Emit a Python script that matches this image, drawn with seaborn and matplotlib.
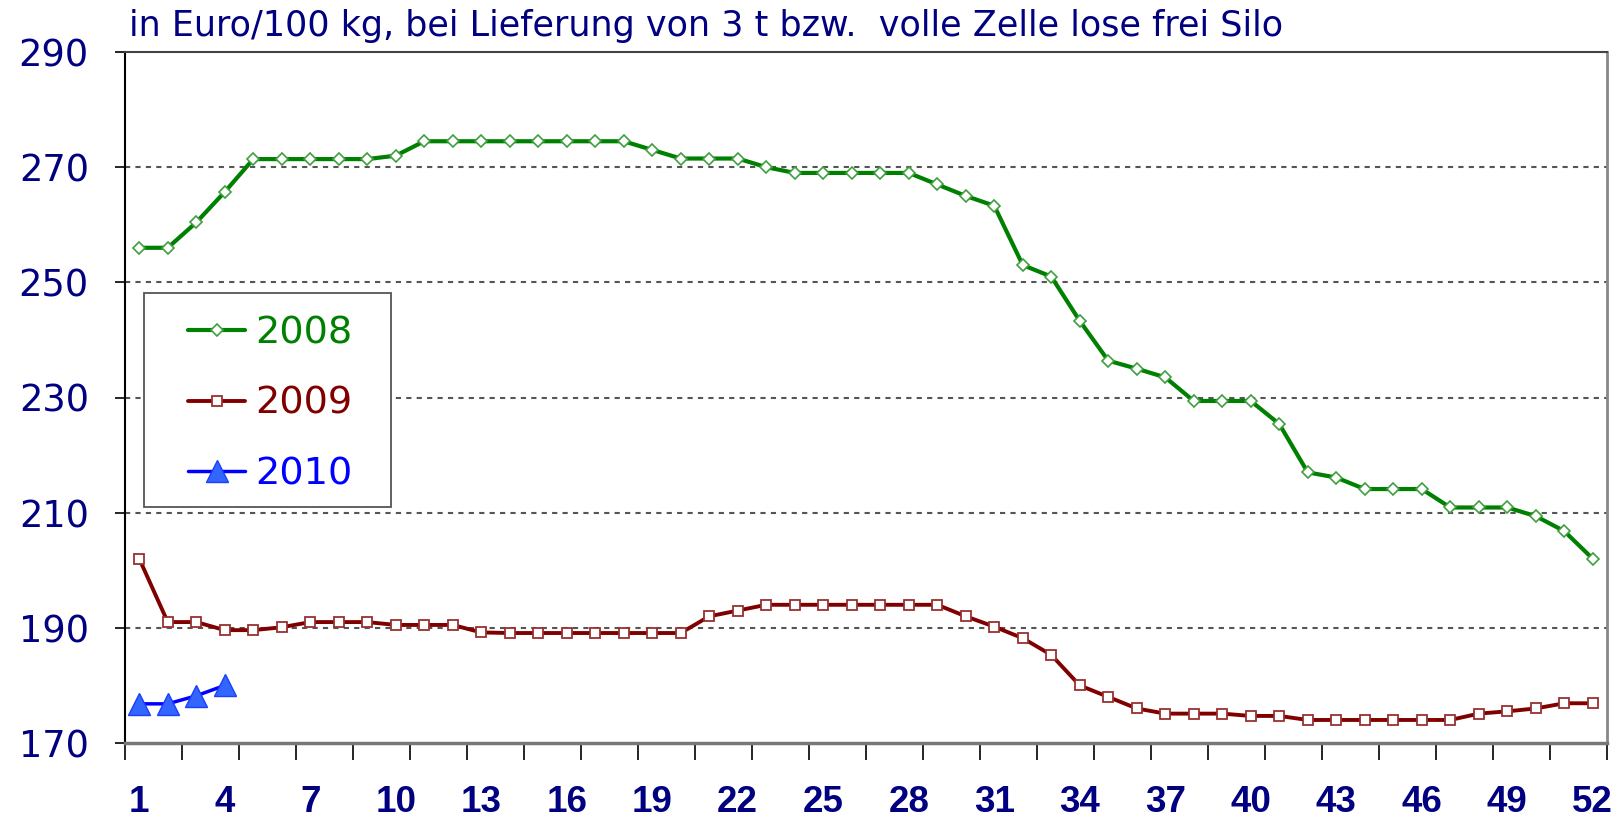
import numpy as np
import pandas as pd
import seaborn as sns
import matplotlib
matplotlib.use("Agg")
import matplotlib.pyplot as plt
from matplotlib.patches import Rectangle
from matplotlib.ticker import FixedLocator, NullFormatter

# weekly prices, Euro/100 kg
weeks = list(range(1, 53))
price_2008 = [256, 256, 260.4, 265.7, 271.4, 271.4, 271.4, 271.4, 271.4, 272.0,
              274.5, 274.5, 274.5, 274.5, 274.5, 274.5, 274.5, 274.5, 273.0, 271.5,
              271.5, 271.5, 270.0, 269.0, 269.0, 269.0, 269.0, 269.0, 267.0, 265.0,
              263.3, 253.0, 251.0, 243.3, 236.4, 235.0, 233.5, 229.4, 229.4, 229.4,
              225.4, 217.0, 216.1, 214.1, 214.1, 214.1, 210.9, 210.9, 210.9, 209.4,
              206.8, 202.0]
price_2009 = [202.0, 191.0, 191.0, 189.6, 189.6, 190.1, 191.0, 191.0, 191.0, 190.5,
              190.5, 190.5, 189.2, 189.1, 189.1, 189.1, 189.1, 189.1, 189.1, 189.1,
              192.0, 193.0, 194.0, 194.0, 194.0, 194.0, 194.0, 194.0, 194.0, 192.0,
              190.2, 188.2, 185.3, 180.0, 178.0, 176.0, 175.1, 175.1, 175.1, 174.7,
              174.7, 174.0, 174.0, 174.0, 174.0, 174.0, 174.0, 175.1, 175.5, 176.0,
              176.9, 176.9]
weeks_2010 = [1, 2, 3, 4]
price_2010 = [176.8, 176.8, 178.2, 180.0]

ytick_vals = [170, 190, 210, 230, 250, 270, 290]
xtick_labels = list(range(1, 53, 3))

navy = "#000080"

sns.set_style("white")
plt.rcParams["font.family"] = ["Liberation Sans", "DejaVu Sans"]

fig = plt.figure(figsize=(16.23, 8.21), dpi=100)
ax = fig.add_axes([125 / 1623, 1 - 743 / 821, 1482 / 1623, 691 / 821])

df08 = pd.DataFrame({"week": weeks, "price": price_2008})
df09 = pd.DataFrame({"week": weeks, "price": price_2009})
df10 = pd.DataFrame({"week": weeks_2010, "price": price_2010})

sns.lineplot(data=df08, x="week", y="price", ax=ax, color="#008000", lw=3,
             marker="D", ms=6.5, mfc="white", mec="#3f9f3f", mew=1.2, label="2008")
sns.lineplot(data=df09, x="week", y="price", ax=ax, color="#800000", lw=2.8,
             marker="s", ms=6.5, mfc="white", mec="#9a3030", mew=1.3, label="2009")
sns.lineplot(data=df10, x="week", y="price", ax=ax, color="#0000ff", lw=2.5,
             marker="^", ms=16, mfc="#3366ff", mec="#1a3dff", mew=1, label="2010")

ax.set_xlim(0.5, 52.5)
ax.set_ylim(170, 290)
ax.set_xlabel("")
ax.set_ylabel("")

# y axis
ax.set_yticks(ytick_vals)
ax.set_yticklabels([str(v) for v in ytick_vals], color=navy, fontsize=26.5,
                   family="DejaVu Sans")
ax.tick_params(axis="y", direction="out", length=7, width=1.2, color="black", pad=19, left=True)
for v in ytick_vals[1:-1]:
    ax.axhline(v, color="#555555", lw=1.5, ls=(0, (2.5, 2.5)), zorder=0)

# x axis: tick marks between pairs of weeks, labels every third week
ax.xaxis.set_major_locator(FixedLocator(xtick_labels))
ax.set_xticklabels([str(w) for w in xtick_labels], color=navy, fontsize=26.5,
                   fontweight="bold")
ax.tick_params(axis="x", which="major", length=0, pad=30)
ax.xaxis.set_minor_locator(FixedLocator(np.arange(0.5, 53, 2)))
ax.xaxis.set_minor_formatter(NullFormatter())
ax.tick_params(axis="x", which="minor", direction="out", length=12, width=1.2,
               color="black", bottom=True)

for side in ["left", "right", "top", "bottom"]:
    ax.spines[side].set_visible(True)
ax.spines["left"].set_color("black")
ax.spines["left"].set_linewidth(1.5)
ax.spines["top"].set_color("#444444")
ax.spines["top"].set_linewidth(1.5)
ax.spines["right"].set_color("#888888")
ax.spines["right"].set_linewidth(2)
ax.spines["bottom"].set_color("#777777")
ax.spines["bottom"].set_linewidth(2.5)

# legend box drawn separately, entries placed inside without frame
ax.add_patch(Rectangle((0.01275, 0.3412), 0.1669, 0.3102, transform=ax.transAxes,
                       facecolor="white", edgecolor="#555555", lw=1.3, zorder=4))
leg = ax.legend(loc="upper left", bbox_to_anchor=(0.0425, 0.6185),
                prop={"family": "DejaVu Sans", "size": 27.5},
                labelcolor="linecolor", frameon=False, handlelength=1.5,
                handletextpad=0.25, labelspacing=0.9, borderpad=0, borderaxespad=0)
leg.set_zorder(5)

fig.text(129 / 1623, 1 - 36 / 821,
         "in Euro/100 kg, bei Lieferung von 3 t bzw.  volle Zelle lose frei Silo",
         color=navy, fontsize=25.2, family="DejaVu Sans", va="baseline", ha="left")

fig.savefig("out.png", dpi=100)
